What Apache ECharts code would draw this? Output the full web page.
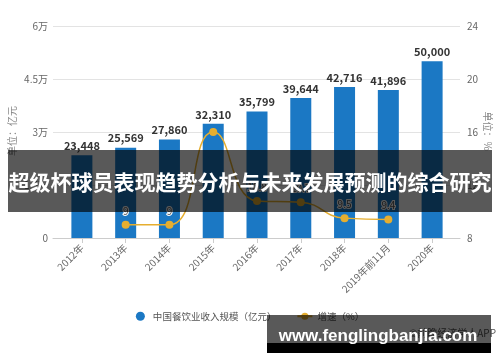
<!DOCTYPE html>
<html>
<head>
<meta charset="utf-8">
<script src="https://cdn.jsdelivr.net/npm/echarts@6/dist/echarts.min.js"></script>
<style>
html,body{margin:0;padding:0;background:#fff;}
#c{width:500px;height:362px;}
</style>
</head>
<body>
<div id="c"></div>
<script>
var categories = ['2012年','2013年','2014年','2015年','2016年','2017年','2018年','2019年前11月','2020年'];
var revenue = [23448, 25569, 27860, 32310, 35799, 39644, 42716, 41896, 50000];
var growth = [null, 9.0, 9.0, 16.0, 10.8, 10.7, 9.5, 9.4, null];
var growthLabelShown = [false, true, true, false, true, true, true, true, false];
var leftTicks = {min: 0, max: 60000, interval: 15000};
var rightTicks = {min: 8, max: 24, interval: 4};
var seriesNames = ['中国餐饮业收入规模（亿元）', '增速（%）'];
var bannerText = '超级杯球员表现趋势分析与未来发展预测的综合研究';
var siteText = 'www.fenglingbanjia.com';
var sourceText = '©前瞻经济学人APP';
var leftName = '单位：亿元';
var rightName = '单位：%';

var FONT = '"Noto Sans CJK SC", "Noto Sans", sans-serif';
var chart = echarts.init(document.getElementById('c'), null, {renderer: 'canvas'});

var lineData = growth.map(function (v, i) {
  return {value: v, label: {show: growthLabelShown[i]}};
});

chart.setOption({
  animation: false,
  textStyle: {fontFamily: FONT},
  grid: [
    {left: 60, right: 46, top: 26, bottom: 124},
    {left: 53, right: 40, top: 26, bottom: 124}
  ],
  legend: {
    bottom: 36, left: 'center',
    itemGap: 20, itemWidth: 15, itemHeight: 9,
    textStyle: {color: '#555', fontSize: 9.5, fontFamily: FONT},
    data: [{name: seriesNames[0], icon: 'circle'}, {name: seriesNames[1]}]
  },
  xAxis: [
    {
      type: 'category', gridIndex: 0, data: categories,
      axisLine: {show: false},
      axisTick: {show: true, alignWithLabel: true, length: 5, lineStyle: {color: '#ccc'}},
      axisLabel: {rotate: 45, color: '#666', fontSize: 10, margin: 8, interval: 0}
    },
    {
      type: 'value', gridIndex: 1, min: 0, max: 1,
      axisLine: {show: true, lineStyle: {color: '#ccc'}},
      axisTick: {show: false}, axisLabel: {show: false}, splitLine: {show: false}
    }
  ],
  yAxis: [
    {type: 'value', gridIndex: 0, min: leftTicks.min, max: leftTicks.max, interval: leftTicks.interval, show: false},
    {type: 'value', gridIndex: 0, min: rightTicks.min, max: rightTicks.max, interval: rightTicks.interval, show: false},
    {
      type: 'value', gridIndex: 1, position: 'left',
      min: leftTicks.min, max: leftTicks.max, interval: leftTicks.interval,
      axisLine: {show: false}, axisTick: {show: false},
      axisLabel: {color: '#666', fontSize: 10, margin: 5,
        formatter: function (v) { return v === 0 ? '0' : (v / 10000) + '万'; }},
      splitLine: {show: true, lineStyle: {color: '#e3e3e3'}}
    },
    {
      type: 'value', gridIndex: 1, position: 'right',
      min: rightTicks.min, max: rightTicks.max, interval: rightTicks.interval,
      axisLine: {show: false}, axisTick: {show: false},
      axisLabel: {color: '#666', fontSize: 10, margin: 7},
      splitLine: {show: false}
    }
  ],
  series: [
    {
      name: seriesNames[0], type: 'bar', xAxisIndex: 0, yAxisIndex: 0,
      data: revenue, barWidth: 21,
      itemStyle: {color: '#1b78c4'},
      label: {show: true, position: 'top', distance: 4, color: '#333', fontWeight: 'bold', fontSize: 11,
        formatter: function (p) { return p.value.toLocaleString('en-US'); }}
    },
    {
      name: seriesNames[1], type: 'line', xAxisIndex: 0, yAxisIndex: 1,
      data: lineData, smooth: 0.5,
      symbol: 'circle', symbolSize: 8,
      lineStyle: {color: '#e6ae2f', width: 1.5},
      itemStyle: {color: '#e6ae2f'},
      label: {show: true, position: 'top', distance: 5, color: '#555', fontSize: 10,
        textBorderColor: '#fff', textBorderWidth: 2}
    }
  ],
  graphic: [
    {type: 'text', x: 12, y: 131, rotation: Math.PI / 2,
      style: {text: leftName, fill: '#888', fontSize: 10, fontFamily: FONT, align: 'center', verticalAlign: 'middle'}},
    {type: 'text', x: 488, y: 131, rotation: -Math.PI / 2,
      style: {text: rightName, fill: '#888', fontSize: 10, fontFamily: FONT, align: 'center', verticalAlign: 'middle'}},
    {type: 'text', x: 496, y: 333,
      style: {text: sourceText, fill: '#555', fontSize: 10, fontFamily: FONT, align: 'right', verticalAlign: 'middle'}},
    {type: 'rect', z: 100, shape: {x: 8, y: 150, width: 484, height: 62}, style: {fill: 'rgba(0,0,0,0.65)'}},
    {type: 'text', z: 101, x: 250, y: 182,
      style: {text: bannerText, fill: '#fff', fontSize: 21, fontWeight: 'bold', fontFamily: '"Noto Sans CJK SC", sans-serif', align: 'center', verticalAlign: 'middle'}},
    {type: 'rect', z: 100, shape: {x: 267, y: 315, width: 224, height: 28}, style: {fill: 'rgba(0,0,0,0.65)'}},
    {type: 'rect', z: 100, shape: {x: 267, y: 343, width: 224, height: 10}, style: {fill: '#000'}},
    {type: 'text', z: 101, x: 378, y: 336,
      style: {text: siteText, fill: '#fff', fontSize: 17, fontWeight: 'bold', fontFamily: '"Liberation Sans", Arial, sans-serif', align: 'center', verticalAlign: 'middle'}}
  ]
});
</script>
</body>
</html>
